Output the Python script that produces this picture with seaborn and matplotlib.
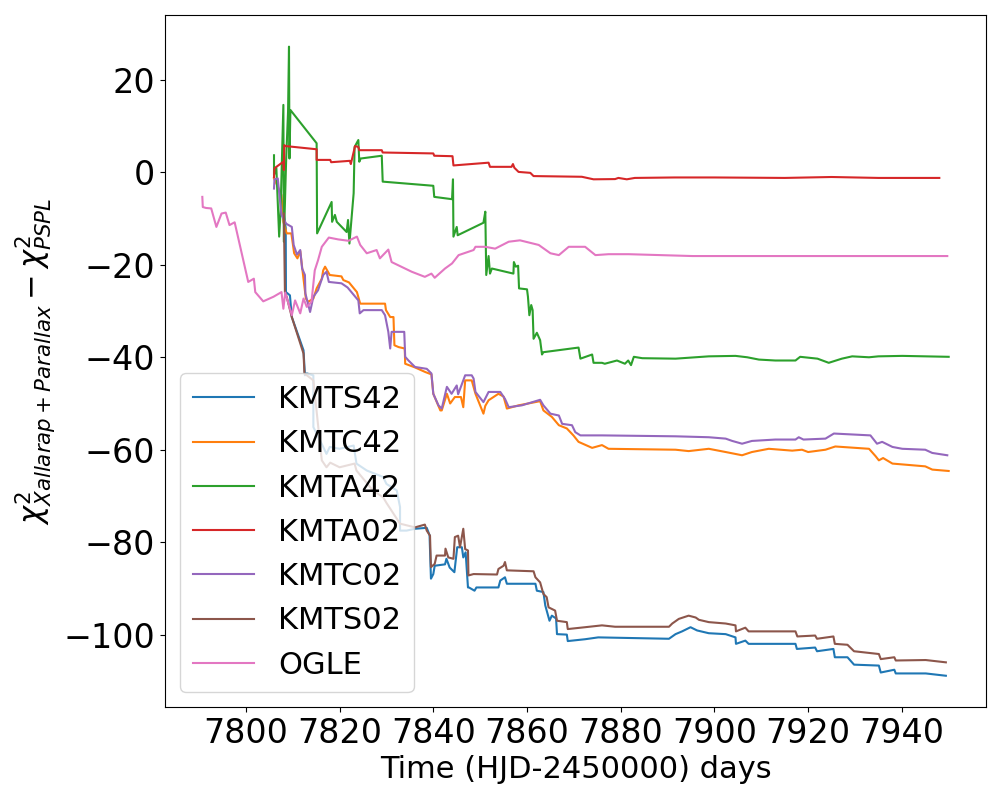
import numpy as np
import pandas as pd
import matplotlib
matplotlib.use("Agg")
import matplotlib.pyplot as plt
import seaborn as sns

series_names = ["KMTS42", "KMTC42", "KMTA42", "KMTA02", "KMTC02", "KMTS02", "OGLE"]

kmts42_t = [7808.1, 7808.5, 7808.55, 7809.4, 7809.8, 7812.3, 7812.6, 7813.0, 7814.4, 7814.4, 7816.5,
            7817.2, 7817.9, 7820.0, 7823.0, 7823.6, 7825.8, 7829.3, 7830.0, 7832.2, 7832.9, 7832.9,
            7834.3, 7836.1, 7838.6, 7839.2, 7839.5, 7840.0, 7840.3, 7842.5, 7842.8, 7843.5, 7844.5,
            7845.1, 7846.1, 7846.4, 7846.9, 7847.4, 7847.6, 7848.8, 7849.2, 7853.9, 7854.3, 7855.3,
            7855.7, 7861.8, 7862.1, 7863.5, 7863.9, 7864.8, 7865.3, 7866.2, 7866.4, 7868.5, 7868.7,
            7872.4, 7875.2, 7890.3, 7891.7, 7893.1, 7894.9, 7896.3, 7898.8, 7902.4, 7904.5, 7904.6,
            7906.6, 7907.3, 7917.3, 7917.6, 7921.5, 7921.9, 7925.4, 7925.7, 7928.4, 7929.8, 7935.1,
            7935.5, 7938.4, 7938.7, 7945.1, 7949.4]
kmts42_v = [-9.0, -12.0, -25.9, -26.6, -31.3, -38.5, -43.9, -43.5, -43.9, -55.1, -59.4,
            -60.9, -59.4, -59.8, -59.1, -63.0, -64.5, -65.9, -67.4, -68.8, -72.4, -77.5,
            -77.5, -77.1, -76.9, -78.5, -87.9, -86.9, -85.1, -84.8, -83.6, -85.5, -86.5,
            -81.1, -81.1, -83.3, -82.2, -89.8, -89.8, -90.5, -89.8, -89.8, -88.3, -87.6,
            -89.0, -89.0, -90.5, -90.8, -93.7, -97.0, -95.9, -96.5, -99.9, -100.0, -101.4,
            -101.0, -100.6, -100.9, -99.9, -99.3, -98.4, -99.1, -99.7, -99.9, -100.6, -102.0,
            -101.3, -102.0, -102.0, -103.1, -102.8, -103.6, -103.1, -104.9, -104.9, -106.5, -106.7,
            -108.2, -107.6, -108.4, -108.4, -108.9]

kmtc42_t = [7806.0, 7807.6, 7808.0, 7808.7, 7809.7, 7810.3, 7811.0, 7811.6, 7812.0, 7812.8, 7813.3,
            7814.4, 7815.1, 7816.2, 7816.5, 7816.9, 7817.9, 7820.4, 7820.8, 7822.0, 7823.7, 7824.4,
            7829.7, 7829.9, 7830.8, 7831.5, 7831.7, 7832.6, 7833.9, 7834.0, 7836.1, 7838.3, 7839.6,
            7840.0, 7841.5, 7841.8, 7842.9, 7843.6, 7844.6, 7845.9, 7846.4, 7846.8, 7848.2, 7849.0,
            7850.7, 7851.1, 7851.8, 7853.9, 7855.0, 7855.7, 7858.2, 7862.8, 7863.5, 7865.3, 7866.8,
            7868.5, 7869.9, 7871.0, 7873.9, 7876.0, 7877.4, 7891.7, 7894.5, 7898.8, 7902.4, 7905.9,
            7908.0, 7911.6, 7916.6, 7918.7, 7920.0, 7923.7, 7925.8, 7933.0, 7934.4, 7935.1, 7936.0,
            7938.0, 7945.0, 7946.5, 7950.0]
kmtc42_v = [-1.3, -4.9, -10.7, -13.2, -13.2, -17.5, -18.6, -17.0, -20.5, -27.3, -28.0,
            -27.3, -25.1, -23.0, -21.2, -20.4, -22.2, -22.5, -23.3, -23.8, -25.9, -28.4,
            -28.4, -29.8, -31.3, -31.3, -37.4, -37.8, -38.1, -41.4, -42.2, -43.2, -43.7,
            -47.9, -51.5, -51.5, -47.9, -50.0, -48.6, -48.6, -50.8, -45.0, -45.0, -47.9,
            -52.2, -50.5, -49.3, -47.9, -48.5, -51.1, -50.4, -49.5, -51.5, -52.9, -54.7,
            -55.4, -56.9, -58.3, -59.6, -59.0, -59.8, -60.0, -60.3, -59.8, -60.5, -61.2,
            -60.5, -59.8, -60.2, -60.0, -60.5, -60.0, -59.3, -59.8, -61.4, -62.3, -61.8,
            -63.0, -63.6, -64.3, -64.6]

kmta42_t = [7806.0, 7806.0, 7806.5, 7807.1, 7807.4, 7808.0, 7808.1, 7808.6, 7809.0, 7809.2, 7809.3,
            7809.5, 7815.1, 7815.2, 7818.3, 7818.4, 7819.0, 7819.4, 7821.5, 7821.8, 7822.1, 7823.0,
            7823.2, 7824.0, 7824.2, 7824.5, 7829.0, 7829.2, 7840.0, 7840.2, 7844.0, 7844.2, 7844.3,
            7845.0, 7845.2, 7850.7, 7851.1, 7851.3, 7851.8, 7852.1, 7852.5, 7857.1, 7857.2, 7857.6,
            7858.1, 7858.3, 7860.0, 7860.2, 7860.5, 7860.9, 7861.2, 7861.4, 7862.1, 7862.8, 7863.2,
            7863.5, 7871.0, 7871.4, 7873.9, 7874.2, 7876.0, 7876.6, 7879.2, 7880.9, 7881.6, 7882.2,
            7882.8, 7884.6, 7891.7, 7898.8, 7904.5, 7907.0, 7909.5, 7913.0, 7917.3, 7918.3, 7922.0,
            7924.4, 7927.2, 7929.4, 7933.0, 7935.0, 7940.1, 7950.0]
kmta42_v = [3.7, -0.6, 1.0, -13.9, -8.5, 14.6, -15.0, 3.0, 13.1, 27.2, 3.0,
            13.5, 6.3, -13.2, -6.4, -10.7, -9.2, -10.7, -12.9, -10.3, -15.4, -4.5,
            5.5, 7.0, 2.3, 3.0, 3.6, -2.0, -2.9, -5.3, -5.8, -1.5, -13.9,
            -11.8, -13.6, -10.9, -8.5, -22.2, -18.1, -21.9, -20.8, -21.9, -19.4, -20.4,
            -20.2, -25.1, -25.3, -26.9, -30.9, -28.7, -29.8, -36.0, -34.7, -36.3, -39.4,
            -38.9, -37.9, -40.3, -39.4, -41.2, -41.2, -41.4, -40.7, -41.4, -40.7, -41.7,
            -39.9, -40.2, -40.3, -39.8, -39.7, -40.0, -40.5, -40.7, -40.7, -39.9, -40.3,
            -41.2, -40.3, -39.8, -40.0, -39.8, -39.7, -39.9]

kmta02_t = [7806.0, 7806.1, 7808.0, 7808.1, 7808.2, 7808.4, 7815.1, 7815.1, 7818.0, 7818.2, 7822.2,
            7822.4, 7823.3, 7824.0, 7824.2, 7829.0, 7829.2, 7840.0, 7840.2, 7844.1, 7844.3, 7851.8,
            7852.1, 7856.7, 7857.0, 7857.3, 7858.2, 7860.7, 7861.4, 7871.7, 7874.2, 7878.8, 7879.5,
            7881.3, 7883.0, 7891.5, 7900.0, 7915.0, 7925.0, 7935.0, 7948.0]
kmta02_v = [-1.0, 0.9, 2.3, 0.5, 5.9, 5.7, 5.0, 2.7, 2.7, 2.2, 2.5,
            1.8, 5.7, 5.5, 4.8, 4.8, 4.3, 4.1, 3.6, 3.5, 1.5, 2.1,
            1.2, 1.2, 1.8, 1.0, 0.1, -0.1, -0.8, -0.95, -1.5, -1.45, -1.2,
            -1.5, -1.2, -1.1, -1.1, -1.2, -1.0, -1.2, -1.2]

kmtc02_t = [7806.0, 7806.1, 7806.8, 7807.2, 7807.6, 7808.6, 7809.8, 7810.2, 7810.9, 7811.6, 7812.0,
            7812.6, 7812.7, 7813.7, 7814.4, 7815.4, 7816.5, 7817.2, 7817.7, 7820.4, 7821.7, 7824.0,
            7824.3, 7825.1, 7829.0, 7829.7, 7830.4, 7830.8, 7831.1, 7833.8, 7834.0, 7834.7, 7836.1,
            7838.6, 7839.6, 7840.0, 7841.1, 7841.8, 7842.9, 7843.9, 7845.0, 7845.3, 7846.8, 7848.2,
            7848.6, 7849.0, 7850.7, 7851.8, 7854.3, 7855.3, 7856.1, 7858.9, 7862.8, 7863.5, 7865.0,
            7866.8, 7867.5, 7869.6, 7870.3, 7871.4, 7876.0, 7891.7, 7898.8, 7902.4, 7903.8, 7905.9,
            7908.0, 7913.0, 7917.3, 7918.0, 7919.0, 7923.7, 7925.5, 7933.3, 7934.7, 7935.8, 7938.0,
            7940.1, 7945.0, 7946.5, 7949.7]
kmtc02_v = [-3.5, -1.5, -1.3, -5.3, -9.2, -11.1, -11.8, -15.7, -17.8, -16.8, -20.8,
            -22.2, -26.2, -30.2, -26.9, -25.5, -22.2, -21.5, -23.7, -24.0, -24.9, -27.7,
            -30.5, -29.8, -29.8, -30.9, -34.5, -38.1, -34.5, -34.5, -39.9, -40.7, -42.1,
            -42.5, -43.5, -47.9, -50.4, -51.1, -46.4, -47.9, -46.1, -48.0, -43.9, -43.9,
            -44.6, -47.5, -49.7, -47.5, -47.5, -49.0, -50.8, -50.4, -49.2, -50.4, -52.2,
            -52.6, -54.4, -54.7, -56.2, -56.9, -56.9, -57.1, -57.3, -57.6, -58.1, -58.7,
            -58.1, -57.8, -57.8, -57.3, -57.8, -57.6, -56.5, -56.9, -58.7, -58.3, -59.4,
            -59.8, -60.0, -60.7, -61.2]

kmts02_t = [7808.1, 7808.33, 7808.7, 7809.8, 7812.3, 7812.5, 7814.4, 7816.2, 7817.2, 7818.0, 7820.0,
            7823.2, 7823.6, 7827.1, 7829.3, 7830.0, 7832.9, 7836.1, 7838.2, 7838.6, 7839.3, 7839.5,
            7840.3, 7840.7, 7842.5, 7842.6, 7843.2, 7844.3, 7844.6, 7845.3, 7845.7, 7846.4, 7846.8,
            7847.4, 7847.5, 7848.6, 7853.6, 7853.9, 7855.0, 7855.3, 7855.7, 7861.4, 7861.8, 7862.8,
            7863.5, 7864.2, 7864.6, 7866.0, 7866.4, 7868.5, 7868.7, 7872.4, 7876.0, 7878.8, 7890.3,
            7891.0, 7892.4, 7894.5, 7896.0, 7896.7, 7898.8, 7902.4, 7904.5, 7904.6, 7906.6, 7907.3,
            7917.3, 7917.7, 7921.5, 7921.9, 7925.4, 7925.7, 7928.4, 7929.8, 7935.1, 7935.5, 7938.4,
            7938.7, 7945.1, 7949.4]
kmts02_v = [-8.9, -25.9, -26.9, -31.3, -39.2, -43.5, -45.0, -62.3, -63.8, -62.8, -63.8,
            -63.0, -64.5, -68.8, -70.3, -71.5, -76.0, -76.8, -76.2, -77.5, -78.6, -85.4,
            -84.7, -82.9, -82.9, -81.4, -83.3, -83.6, -78.9, -78.6, -81.1, -77.1, -81.5,
            -81.8, -87.2, -86.9, -87.0, -85.8, -85.1, -84.3, -86.1, -86.3, -87.6, -88.7,
            -91.2, -91.9, -94.1, -94.8, -97.0, -97.3, -98.8, -98.4, -98.0, -98.3, -98.3,
            -97.6, -96.6, -95.9, -96.3, -96.8, -97.3, -97.6, -98.0, -99.3, -98.5, -99.3,
            -99.3, -100.4, -100.2, -100.9, -100.4, -102.0, -102.2, -103.6, -104.2, -105.3, -104.9,
            -105.6, -105.5, -106.0]

ogle_t = [7790.7, 7790.8, 7791.5, 7792.6, 7793.7, 7794.8, 7795.7, 7796.5, 7797.6, 7800.5, 7801.7,
          7802.0, 7803.7, 7805.9, 7807.6, 7808.0, 7808.4, 7809.8, 7810.5, 7811.6, 7812.3, 7813.0,
          7814.0, 7814.7, 7815.4, 7816.2, 7817.7, 7819.7, 7821.9, 7823.7, 7824.4, 7825.8, 7827.9,
          7828.6, 7830.4, 7831.1, 7835.4, 7838.2, 7839.6, 7840.3, 7842.5, 7844.0, 7845.4, 7848.6,
          7849.0, 7851.1, 7853.2, 7856.1, 7858.5, 7862.5, 7865.0, 7866.8, 7868.9, 7872.4, 7874.6,
          7877.4, 7881.7, 7895.3, 7913.0, 7949.7]
ogle_v = [-5.3, -7.5, -7.7, -7.8, -11.8, -8.9, -8.7, -11.4, -10.8, -23.7, -23.0,
          -25.9, -27.9, -26.9, -25.9, -29.5, -26.0, -30.9, -27.7, -30.5, -27.3, -29.1,
          -28.0, -21.2, -19.0, -16.1, -14.1, -14.5, -14.8, -13.9, -15.7, -17.5, -16.8,
          -18.6, -16.7, -19.4, -21.5, -22.6, -21.9, -22.8, -20.8, -19.7, -17.9, -16.8,
          -16.1, -16.1, -16.5, -15.0, -14.7, -15.7, -17.5, -17.9, -16.1, -16.1, -17.9,
          -17.7, -17.7, -18.1, -18.1, -18.1]

all_t = [kmts42_t, kmtc42_t, kmta42_t, kmta02_t, kmtc02_t, kmts02_t, ogle_t]
all_v = [kmts42_v, kmtc42_v, kmta42_v, kmta02_v, kmtc02_v, kmts02_v, ogle_v]

frames = []
for name, t, v in zip(series_names, all_t, all_v):
    frames.append(pd.DataFrame({"t": t, "v": v, "series": name}))
df = pd.concat(frames, ignore_index=True)

fig = plt.figure(figsize=(10, 8), dpi=100)
ax = fig.add_axes([0.165, 0.116, 0.821, 0.865])
sns.lineplot(data=df, x="t", y="v", hue="series", hue_order=series_names,
             palette="tab10", estimator=None, sort=False, linewidth=1.5, ax=ax)

leg = ax.get_legend()
handles = leg.legend_handles
labels = [tx.get_text() for tx in leg.get_texts()]
leg.remove()
ax.legend(handles, labels, loc="lower left", fontsize=22)

ax.set_xlabel("Time (HJD-2450000) days", fontsize=22)
ax.set_ylabel(r"$\chi^2_{Xallarap+Parallax} - \chi^2_{PSPL}$", fontsize=22)
ax.tick_params(axis="both", labelsize=24)
ax.set_xticks([7800, 7820, 7840, 7860, 7880, 7900, 7920, 7940])

fig.savefig("out.png", dpi=100)
